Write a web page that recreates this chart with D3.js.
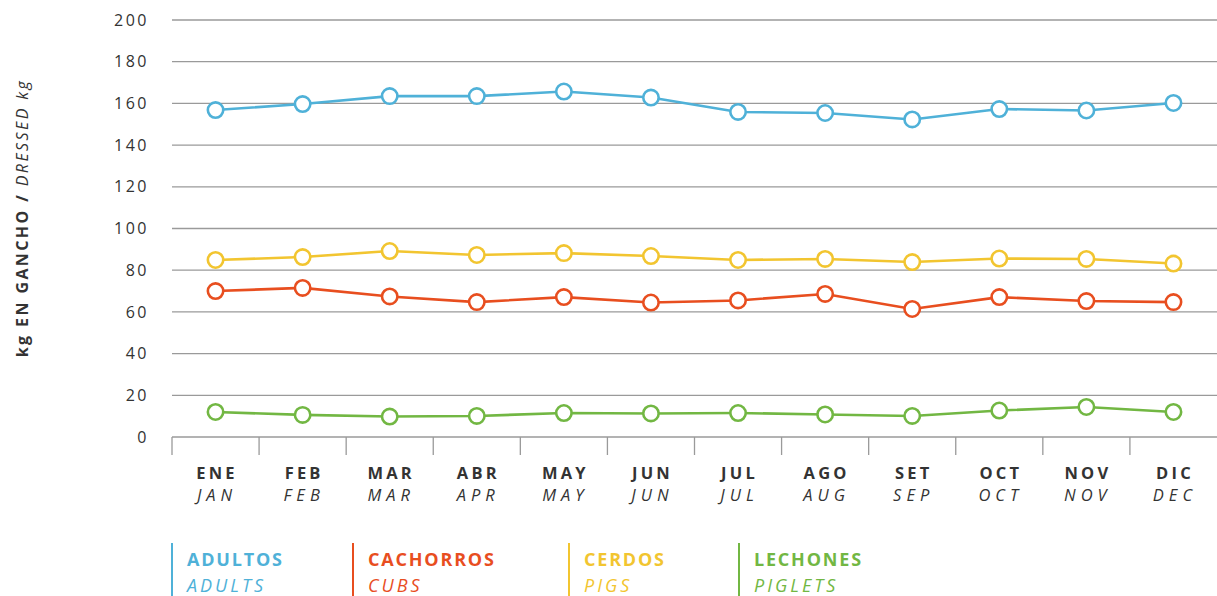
<!DOCTYPE html>
<html>
<head>
<meta charset="utf-8">
<script src="https://cdn.jsdelivr.net/npm/d3@7"></script>
<style>
  body { margin: 0; background: #fff; }
  svg { font-family: "Open Sans", Lato, sans-serif; }
</style>
</head>
<body>
<div class="chart"></div>
<script>
var monthsEs = ["ENE", "FEB", "MAR", "ABR", "MAY", "JUN", "JUL", "AGO", "SET", "OCT", "NOV", "DIC"];
var monthsEn = ["JAN", "FEB", "MAR", "APR", "MAY", "JUN", "JUL", "AUG", "SEP", "OCT", "NOV", "DEC"];

var adultos = [156.8, 159.7, 163.5, 163.5, 165.7, 162.8, 155.9, 155.4, 152.3, 157.3, 156.6, 160.2];
var cerdos = [84.9, 86.3, 89.2, 87.3, 88.2, 86.8, 84.9, 85.4, 83.9, 85.6, 85.4, 83.2];
var cachorros = [70, 71.5, 67.4, 64.7, 67.1, 64.5, 65.5, 68.6, 61.4, 67.1, 65.2, 64.7];
var lechones = [12, 10.6, 9.8, 10.1, 11.5, 11.3, 11.5, 10.8, 10.1, 12.7, 14.4, 12];

var yTicks = [0, 20, 40, 60, 80, 100, 120, 140, 160, 180, 200];

var series = [
  { es: "ADULTOS", en: "ADULTS", values: adultos, color: "#4fb1d8" },
  { es: "CACHORROS", en: "CUBS", values: cachorros, color: "#e84e1f" },
  { es: "CERDOS", en: "PIGS", values: cerdos, color: "#f2c530" },
  { es: "LECHONES", en: "PIGLETS", values: lechones, color: "#72b743" }
];
// draw order: back to front
var drawOrder = [series[3], series[1], series[2], series[0]];

var width = 1217;
var height = 596;
var plot = { left: 172, right: 1217, top: 20, bottom: 437 };

var x = d3.scaleBand().domain(monthsEs).range([plot.left, plot.right]);
var y = d3.scaleLinear().domain([0, 200]).range([plot.bottom, plot.top]);

var svg = d3.select(".chart").append("svg")
  .attr("width", width)
  .attr("height", height);

// gridlines
svg.append("g")
  .selectAll("line")
  .data(yTicks.filter(function(d) { return d > 0; }))
  .enter()
  .append("line")
  .attr("x1", plot.left)
  .attr("x2", plot.right)
  .attr("y1", function(d) { return y(d); })
  .attr("y2", function(d) { return y(d); })
  .attr("stroke", "#9a9a9a")
  .attr("stroke-width", 1.3);

// y tick labels
svg.append("g")
  .selectAll("text")
  .data(yTicks)
  .enter()
  .append("text")
  .attr("x", 149)
  .attr("y", function(d) { return y(d); })
  .attr("dy", "0.35em")
  .attr("text-anchor", "end")
  .attr("fill", "#333")
  .attr("font-size", 16)
  .attr("letter-spacing", 2.5)
  .text(function(d) { return d; });

// baseline and band ticks
svg.append("line")
  .attr("x1", plot.left).attr("x2", plot.right)
  .attr("y1", plot.bottom).attr("y2", plot.bottom)
  .attr("stroke", "#9a9a9a").attr("stroke-width", 1.3);

var edges = monthsEs.map(function(m) { return x(m); });
svg.append("g")
  .selectAll("line")
  .data(edges)
  .enter()
  .append("line")
  .attr("x1", function(d) { return d; })
  .attr("x2", function(d) { return d; })
  .attr("y1", plot.bottom)
  .attr("y2", 455)
  .attr("stroke", "#9a9a9a")
  .attr("stroke-width", 1.3);

// month labels
var mg = svg.append("g").selectAll("g")
  .data(monthsEs)
  .enter()
  .append("g")
  .attr("transform", function(d) { return "translate(" + (x(d) + x.bandwidth() / 2 + 1.5) + ",0)"; });

mg.append("text")
  .attr("y", 479)
  .attr("text-anchor", "middle")
  .attr("fill", "#333")
  .attr("font-size", 16.5)
  .attr("font-weight", "bold")
  .attr("letter-spacing", 3.2)
  .text(function(d) { return d; });

mg.append("text")
  .attr("y", 501)
  .attr("text-anchor", "middle")
  .attr("fill", "#333")
  .attr("font-size", 16.5)
  .attr("font-style", "italic")
  .attr("letter-spacing", 5)
  .text(function(d, i) { return monthsEn[i]; });

// y axis title
var title = svg.append("text")
  .attr("transform", "translate(28," + 218 + ") rotate(-90)")
  .attr("text-anchor", "middle")
  .attr("fill", "#333")
  .attr("font-size", 16)
  .attr("letter-spacing", 2.4);
title.append("tspan").attr("font-weight", "bold").text("kg EN GANCHO / ");
title.append("tspan").attr("font-style", "italic").text("DRESSED kg");

// lines
var line = d3.line()
  .x(function(d, i) { return x(monthsEs[i]) + x.bandwidth() / 2; })
  .y(function(d) { return y(d); });

drawOrder.forEach(function(s) {
  var g = svg.append("g");
  g.append("path")
    .datum(s.values)
    .attr("d", line)
    .attr("fill", "none")
    .attr("stroke", s.color)
    .attr("stroke-width", 2.6);
  g.selectAll("circle")
    .data(s.values)
    .enter()
    .append("circle")
    .attr("cx", function(d, i) { return x(monthsEs[i]) + x.bandwidth() / 2; })
    .attr("cy", function(d) { return y(d); })
    .attr("r", 7.7)
    .attr("fill", "#fff")
    .attr("stroke", s.color)
    .attr("stroke-width", 2.6);
});

// legend
var legendX = [172, 353, 569, 739];
var lg = svg.append("g").selectAll("g")
  .data(series)
  .enter()
  .append("g")
  .attr("transform", function(d, i) { return "translate(" + legendX[i] + ",0)"; });

lg.append("line")
  .attr("x1", 0).attr("x2", 0)
  .attr("y1", 543).attr("y2", 596)
  .attr("stroke", function(d) { return d.color; })
  .attr("stroke-width", 2);

lg.append("text")
  .attr("x", 15)
  .attr("y", 566)
  .attr("fill", function(d) { return d.color; })
  .attr("font-size", 18)
  .attr("font-weight", "bold")
  .attr("letter-spacing", 1.8)
  .text(function(d) { return d.es; });

lg.append("text")
  .attr("x", 15)
  .attr("y", 592)
  .attr("fill", function(d) { return d.color; })
  .attr("font-size", 18)
  .attr("font-style", "italic")
  .attr("letter-spacing", 3)
  .text(function(d) { return d.en; });
</script>
</body>
</html>
